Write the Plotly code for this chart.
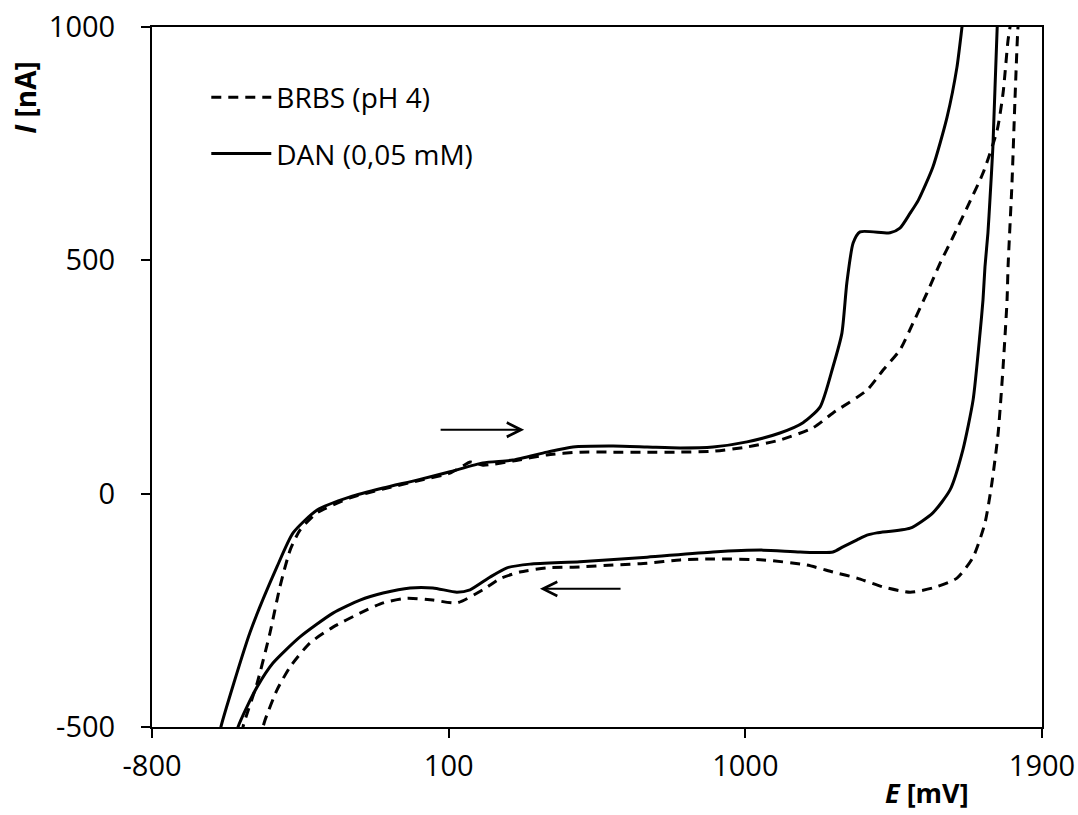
import plotly.graph_objects as go

# ---- data (E in mV, I in nA) ----
E_BRBS = [-527, -524, -518, -481, -442, -412, -381, -351, -299, -199, -99, 4, 104, 145, 165, 204, 295,
          398, 498, 599, 702, 802, 902, 1005, 1105, 1205, 1266, 1369, 1418, 1469, 1509, 1551, 1591,
          1630, 1672, 1721, 1764, 1782, 1797, 1803, 1806,
          1830, 1827, 1818, 1809, 1797, 1794, 1782, 1767, 1748, 1727, 1691, 1642, 1569, 1500, 1418,
          1339, 1266, 1187, 1054, 902, 802, 702, 599, 498, 398, 316, 256, 204, 125, 52, -26, -99,
          -169, -251, -321, -381, -421, -457, -463, -466]
I_BRBS = [-515, -500, -485, -406, -298, -200, -121, -78, -41, -9, 10, 27, 44, 60, 68, 61, 70,
          83, 89, 89, 89, 89, 91, 100, 115, 141, 173, 222, 265, 308, 366, 430, 494,
          550, 612, 687, 779, 859, 972, 1000, 1015,
          1015, 998, 844, 666, 486, 415, 272, 130, 23, -63, -136, -181, -202, -211, -200,
          -181, -168, -153, -142, -140, -142, -149, -153, -157, -159, -168, -182, -206, -234, -228, -224, -234,
          -256, -286, -320, -371, -421, -485, -500, -515]

E_DAN = [-594, -591, -503, -421, -372, -299, -199, -99, 4, 104, 204, 295, 398, 477, 599, 702, 802, 902,
         1005, 1105, 1175, 1227, 1266, 1293, 1308, 1327, 1348, 1439, 1469, 1500, 1525, 1569, 1612,
         1642, 1657, 1660,
         1766, 1764, 1751, 1742, 1736, 1727, 1721, 1712, 1691, 1660, 1621, 1569, 1500, 1399, 1369,
         1339, 1296, 1266, 1166, 1054, 902, 702, 498, 347, 277, 225, 165, 125, 52, -17, -99, -169,
         -251, -351, -433, -481, -512, -539, -545]
I_DAN = [-515, -500, -298, -157, -84, -35, -7, 12, 29, 47, 66, 72, 89, 100, 102, 100, 98, 100,
         111, 130, 152, 186, 272, 344, 452, 537, 561, 559, 569, 601, 629, 700, 807,
         914, 998, 1015,
         1015, 998, 743, 629, 559, 486, 415, 344, 201, 94, 8, -41, -74, -84, -89,
         -99, -114, -125, -125, -121, -125, -136, -146, -151, -159, -179, -206, -211, -202, -202, -213, -228,
         -256, -307, -363, -414, -457, -500, -515]

series_names = ["BRBS (pH 4)", "DAN (0,05 mM)"]
x_ticks = [-800, 100, 1000, 1900]
y_ticks = [-500, 0, 500, 1000]

FONT = "Open Sans"

fig = go.Figure()
fig.add_trace(go.Scatter(x=E_BRBS, y=I_BRBS, mode="lines", name=series_names[0],
                         legendgroup="a",
                         line=dict(color="black", width=3, dash="10px,7px",
                                   shape="spline", smoothing=0.6)))
fig.add_trace(go.Scatter(x=E_DAN, y=I_DAN, mode="lines", name=series_names[1],
                         legendgroup="b",
                         line=dict(color="black", width=3, shape="spline", smoothing=0.6)))

# scan direction arrows
fig.add_annotation(x=329, y=137, ax=71, ay=137, xref="x", yref="y", axref="x", ayref="y",
                   text="", showarrow=True, arrowhead=5, arrowsize=1.4, arrowwidth=2, arrowcolor="black")
fig.add_annotation(x=377, y=-204, ax=626, ay=-204, xref="x", yref="y", axref="x", ayref="y",
                   text="", showarrow=True, arrowhead=5, arrowsize=1.4, arrowwidth=2, arrowcolor="black")

# axis titles
fig.add_annotation(text="<b><i>I</i> [nA]</b>", textangle=-90, xref="paper", yref="paper",
                   x=-0.143, y=0.90, showarrow=False, xanchor="center", yanchor="middle",
                   font=dict(family=FONT, size=28, color="black"))
fig.add_annotation(text="<b><i>E</i> [mV]</b>", xref="paper", yref="paper",
                   x=0.871, y=-0.093, showarrow=False, xanchor="center", yanchor="middle",
                   font=dict(family=FONT, size=27, color="black"))

axis_common = dict(showline=True, linewidth=2, linecolor="black", mirror=True,
                   ticks="outside", ticklen=9, tickwidth=2, tickcolor="black",
                   showgrid=False, zeroline=False, automargin=False,
                   tickfont=dict(family=FONT, size=29, color="black"))

fig.update_xaxes(range=[-800, 1900], tickvals=x_ticks, ticktext=[str(v) for v in x_ticks],
                 ticklabelstandoff=3, **axis_common)
fig.update_yaxes(range=[-500, 1000], tickvals=y_ticks, ticktext=[str(v) for v in y_ticks],
                 ticklabelstandoff=20, **axis_common)

fig.update_layout(
    width=1078, height=815,
    margin=dict(l=152, r=36, t=27, b=88, autoexpand=False),
    paper_bgcolor="white", plot_bgcolor="white",
    font=dict(family=FONT, size=28, color="black"),
    showlegend=True,
    legend=dict(x=0.061, y=0.935, xanchor="left", yanchor="top", bgcolor="rgba(0,0,0,0)",
                itemwidth=60, traceorder="grouped", tracegroupgap=17,
                font=dict(family=FONT, size=28, color="black")),
)

fig.write_html("out.html", config={"displayModeBar": False},
               post_script="document.body.style.margin='0px';document.body.style.overflow='hidden';")
